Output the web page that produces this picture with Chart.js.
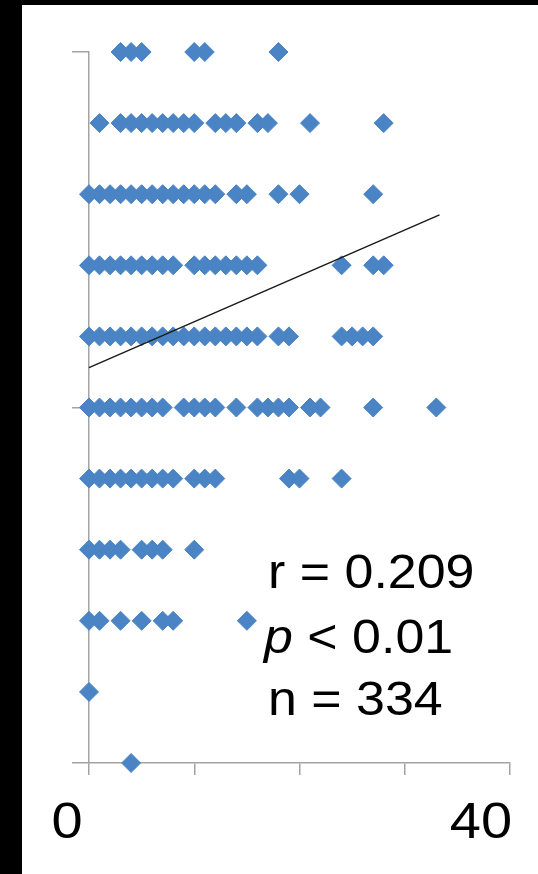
<!DOCTYPE html>
<html>
<head>
<meta charset="utf-8">
<script src="https://cdn.jsdelivr.net/npm/chart.js@4"></script>
<style>
  html, body { margin: 0; padding: 0; background: #000; }
  #panel { position: absolute; left: 22px; top: 5px; width: 516px; height: 869px; background: #fff; }
</style>
</head>
<body>
<div id="panel"><canvas id="chart" width="516" height="869"></canvas></div>
<script>
  // x values of the markers on each y level (one marker per distinct value)
  const xAtY10 = [3, 4, 5, 10, 11, 18];
  const xAtY9 = [1, 3, 4, 5, 6, 7, 8, 9, 10, 12, 13, 14, 16, 17, 21, 28];
  const xAtY8 = [0, 1, 2, 3, 4, 5, 6, 7, 8, 9, 10, 11, 12, 14, 15, 18, 20, 27];
  const xAtY7 = [0, 1, 2, 3, 4, 5, 6, 7, 8, 10, 11, 12, 13, 14, 15, 16, 24, 27, 28];
  const xAtY6 = [0, 1, 2, 3, 4, 5, 6, 7, 8, 9, 10, 11, 12, 13, 14, 15, 16, 18, 19, 24, 25, 26, 27];
  const xAtY5 = [0, 1, 2, 3, 4, 5, 6, 7, 9, 10, 11, 12, 14, 16, 17, 18, 19, 21, 22, 27, 33];
  const xAtY4 = [0, 1, 2, 3, 4, 5, 6, 7, 8, 10, 11, 12, 19, 20, 24];
  const xAtY3 = [0, 1, 2, 3, 5, 6, 7, 10];
  const xAtY2 = [0, 1, 3, 5, 7, 8, 15];
  const xAtY1 = [0];
  const xAtY0 = [4];

  const trendX = [0, 33.3];
  const trendY = [5.56, 7.71];

  const xTickLabels = ['0', '40'];
  const statLines = ['r = 0.209', 'p < 0.01', 'n = 334'];

  const rows = [xAtY0, xAtY1, xAtY2, xAtY3, xAtY4, xAtY5, xAtY6, xAtY7, xAtY8, xAtY9, xAtY10];
  const points = [];
  rows.forEach((xs, y) => xs.forEach(x => points.push({ x: x, y: y })));

  const axisColor = '#a3a3a3';
  const markerColor = '#4a84c4';
  const font = "'Liberation Sans', Arial, sans-serif";

  const drawStretched = (ctx, text, x, y, sx) => {
    ctx.save();
    ctx.translate(x, y);
    ctx.scale(sx, 1);
    ctx.fillText(text, 0, 0);
    ctx.restore();
  };

  const textPlugin = {
    id: 'texts',
    afterDraw(chart) {
      const { ctx, chartArea, scales } = chart;
      ctx.save();
      ctx.fillStyle = '#000';
      ctx.textBaseline = 'alphabetic';
      ctx.textAlign = 'left';

      // axis end labels
      ctx.font = '50px ' + font;
      const base = chartArea.bottom + 75;
      const w0 = ctx.measureText(xTickLabels[0]).width * 1.12;
      drawStretched(ctx, xTickLabels[0], scales.x.getPixelForValue(0) - 22 - w0 / 2, base, 1.12);
      const w40 = ctx.measureText(xTickLabels[1]).width * 1.12;
      drawStretched(ctx, xTickLabels[1], scales.x.getPixelForValue(40) - 29 - w40 / 2, base, 1.12);

      // statistics
      const left = chartArea.left + 179;
      const sx = 1.06;
      ctx.font = '49px ' + font;
      drawStretched(ctx, statLines[0], left, chartArea.top + 536, sx);

      ctx.font = 'italic 49px ' + font;
      drawStretched(ctx, 'p', left - 4, chartArea.top + 601, sx);
      const pw = ctx.measureText('p').width * sx;
      ctx.font = '49px ' + font;
      drawStretched(ctx, statLines[1].slice(1), left - 4 + pw, chartArea.top + 601, sx);

      drawStretched(ctx, statLines[2], left, chartArea.top + 663, sx);
      ctx.restore();
    }
  };

  new Chart(document.getElementById('chart'), {
    type: 'scatter',
    data: {
      datasets: [
        {
          data: trendX.map((x, i) => ({ x: x, y: trendY[i] })),
          showLine: true,
          borderColor: '#1a1a1a',
          borderWidth: 1.5,
          pointRadius: 0,
          clip: false,
        },
        {
          data: points,
          pointStyle: 'rectRot',
          pointRadius: 9.5,
          backgroundColor: markerColor,
          borderColor: markerColor,
          borderWidth: 1,
          clip: false,
        },
      ],
    },
    options: {
      responsive: false,
      animation: false,
      devicePixelRatio: 1,
      layout: {
        padding: { left: 50, right: 28, top: 47, bottom: 99 },
      },
      scales: {
        x: {
          type: 'linear',
          min: 0,
          max: 40,
          ticks: { stepSize: 10, display: false },
          grid: { drawOnChartArea: false, drawTicks: true, tickLength: 12, color: axisColor, lineWidth: 1.5 },
          border: { display: true, color: axisColor, width: 1.5 },
        },
        y: {
          min: 0,
          max: 10,
          ticks: { stepSize: 5, display: false },
          grid: { drawOnChartArea: false, drawTicks: true, tickLength: 17, color: axisColor, lineWidth: 1.5 },
          border: { display: true, color: axisColor, width: 1.5 },
        },
      },
      plugins: {
        legend: { display: false },
        tooltip: { enabled: false },
      },
    },
    plugins: [textPlugin],
  });
</script>
</body>
</html>
